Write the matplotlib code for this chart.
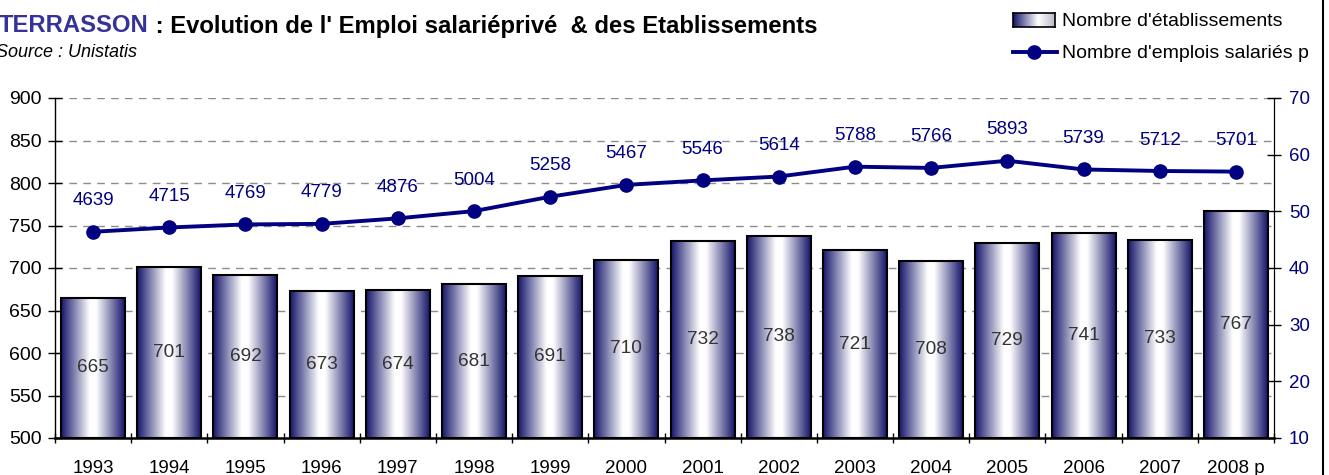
import numpy as np
import matplotlib
matplotlib.use('Agg')
import matplotlib.pyplot as plt
from matplotlib.colors import LinearSegmentedColormap
from matplotlib.lines import Line2D
from matplotlib.transforms import Bbox, TransformedBbox

plt.rcParams['font.family'] = ['Liberation Sans', 'DejaVu Sans']

years = ['1993', '1994', '1995', '1996', '1997', '1998', '1999', '2000',
         '2001', '2002', '2003', '2004', '2005', '2006', '2007', '2008 p']
etablissements = [665, 701, 692, 673, 674, 681, 691, 710,
                  732, 738, 721, 708, 729, 741, 733, 767]
emplois = [4639, 4715, 4769, 4779, 4876, 5004, 5258, 5467,
           5546, 5614, 5788, 5766, 5893, 5739, 5712, 5701]
left_ticks = [500, 550, 600, 650, 700, 750, 800, 850, 900]
right_ticks = [10, 20, 30, 40, 50, 60, 70]

NAVY = '#000080'
W, H = 1329, 475
BASE = 500

fig = plt.figure(figsize=(W / 100, H / 100), dpi=100)
ax = fig.add_axes([55 / W, 37 / H, 1219 / W, 340 / H])
ax2 = ax.twinx()

x = np.arange(len(years))
cmap = LinearSegmentedColormap.from_list(
    'bar', [(0.0, '#15156b'), (0.45, '#ffffff'), (0.55, '#ffffff'), (1.0, '#15156b')])
grad = np.linspace(0, 1, 256).reshape(1, -1)

heights = [v - BASE for v in etablissements]
bars = ax.bar(x, heights, bottom=BASE, width=0.84, facecolor='none',
              edgecolor='black', linewidth=1.5, zorder=3)
for b in bars:
    x0, w = b.get_x(), b.get_width()
    y0, h = b.get_y(), b.get_height()
    im = ax.imshow(grad, extent=[x0, x0 + w, y0, y0 + h], aspect='auto',
                   cmap=cmap, zorder=2, interpolation='bicubic')
    im.set_clip_path(b)

for xi, v in zip(x, etablissements):
    ax.text(xi, (BASE + v) / 2, str(v), ha='center', va='center',
            fontsize=13.7, color='#333333', zorder=4)

ax.set_xlim(-0.5, len(years) - 0.5)
ax.set_ylim(500, 900)
ax.set_yticks(left_ticks)
ax.tick_params(axis='y', direction='inout', length=10, width=1, pad=4.5,
               labelsize=14, colors='black')
ax.set_xticks(np.arange(-0.5, len(years), 1))
ax.set_xticklabels([''] * (len(years) + 1))
ax.set_xticks(x, minor=True)
ax.set_xticklabels(years, minor=True)
ax.tick_params(axis='x', which='major', direction='inout', length=7, width=1)
ax.tick_params(axis='x', which='minor', length=0, pad=16, labelsize=13.5)
ax.yaxis.grid(True, linestyle=(0, (5.5, 4.5)), color='#8c8c8c', linewidth=1)
ax.set_axisbelow(True)
ax.spines['top'].set_visible(False)
ax.spines['bottom'].set_linewidth(1.8)
ax.spines['left'].set_linewidth(1)

vals = [v / 100 for v in emplois]
ax2.plot(x, vals, color=NAVY, linewidth=2.8, marker='o', markersize=9.5, zorder=5)
for xi, v, lab in zip(x, vals, emplois):
    ax2.annotate(str(lab), (xi, v), xytext=(0, 22.3), textcoords='offset points',
                 ha='center', va='center', fontsize=13.5, color=NAVY)
ax2.set_ylim(10, 70)
ax2.set_yticks(right_ticks)
ax2.tick_params(axis='y', direction='inout', length=10, width=1, pad=5.8,
                labelsize=13.5, labelcolor=NAVY)
ax2.spines['top'].set_visible(False)
ax2.spines['left'].set_visible(False)
ax2.spines['bottom'].set_visible(False)

# Title
renderer = fig.canvas.get_renderer()
t1 = fig.text(-1 / W, 1 - 32.5 / H, 'TERRASSON', fontsize=17.2, fontweight='bold',
              color='#333399', va='baseline', ha='left')
bb = t1.get_window_extent(renderer)
fig.text(bb.x1 / W, 1 - 32.5 / H, ' : Evolution de l\' Emploi salariéprivé  & des Etablissements',
         fontsize=17.2, fontweight='bold', color='black', va='baseline', ha='left')
fig.text(-4 / W, 1 - 57 / H, 'Source : Unistatis', fontsize=13, style='italic',
         va='baseline', ha='left')

# Legend
clip = TransformedBbox(Bbox([[0, 0], [1310 / W, 1]]), fig.transFigure)
lax = fig.add_axes([1013 / W, 1 - 27 / H, 42 / W, 14 / H])
lgrad_cmap = LinearSegmentedColormap.from_list(
    'leg', [(0.0, '#15156b'), (0.6, '#ffffff'), (1.0, '#b8b8cc')])
lax.imshow(grad, aspect='auto', cmap=lgrad_cmap, extent=[0, 1, 0, 1],
           interpolation='bicubic')
lax.set_xticks([])
lax.set_yticks([])
for s in lax.spines.values():
    s.set_linewidth(1.2)
t = fig.text(1062 / W, 1 - 22 / H, "Nombre d'établissements", fontsize=14,
             va='center', ha='left', clip_on=True)
t.set_clip_box(clip)
fig.add_artist(Line2D([1013 / W, 1057 / W], [1 - 52 / H, 1 - 52 / H],
                      transform=fig.transFigure, color=NAVY, linewidth=2.8))
fig.add_artist(Line2D([1034 / W], [1 - 52 / H], transform=fig.transFigure,
                      color=NAVY, marker='o', markersize=9.5, linestyle='none'))
t = fig.text(1062 / W, 1 - 54 / H, "Nombre d'emplois salariés privés", fontsize=14,
             va='center', ha='left', clip_on=True)
t.set_clip_box(clip)

fig.add_artist(Line2D([1323 / W, 1323 / W], [0, 1], transform=fig.transFigure,
                      color='black', linewidth=1.5))

fig.savefig('out.png', dpi=100)
